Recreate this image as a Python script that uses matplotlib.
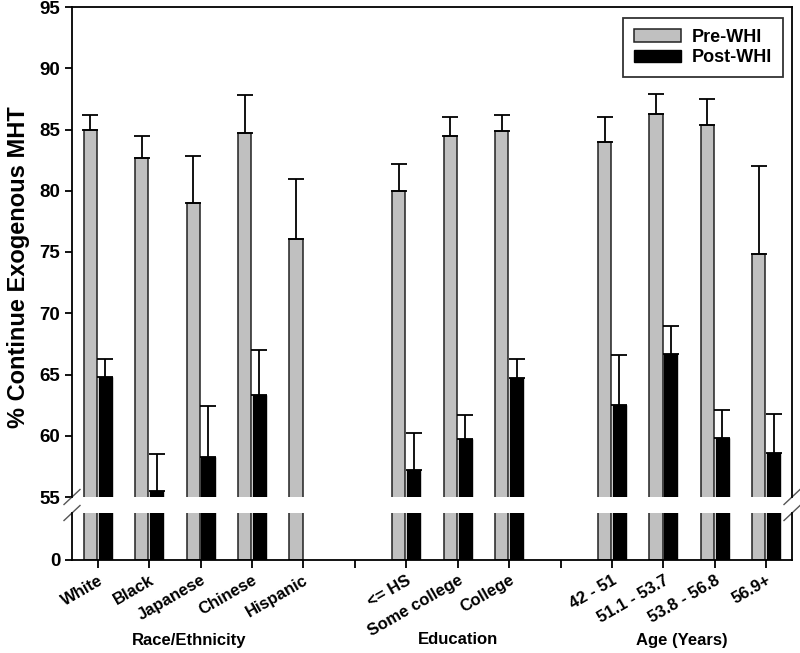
import numpy as np
import matplotlib
matplotlib.use('Agg')
import matplotlib.pyplot as plt
from matplotlib.transforms import blended_transform_factory

# ----------
# Data

categories = ['White', 'Black', 'Japanese', 'Chinese', 'Hispanic',
              '<= HS', 'Some college', 'College',
              '42 - 51', '51.1 - 53.7', '53.8 - 56.8', '56.9+']
groups = ['Race/Ethnicity', 'Education', 'Age (Years)']
group_sizes = [5, 3, 4]

pre_whi = [85.0, 82.7, 79.0, 84.7, 76.1, 80.0, 84.5, 84.9, 84.0, 86.3, 85.4, 74.8]
pre_err = [1.2, 1.8, 3.8, 3.1, 4.9, 2.2, 1.5, 1.3, 2.0, 1.6, 2.1, 7.2]
post_whi = [64.8, 55.5, 58.3, 63.3, np.nan, 57.2, 59.7, 64.7, 62.5, 66.7, 59.8, 58.6]
post_err = [1.5, 3.0, 4.1, 3.7, np.nan, 3.0, 2.0, 1.6, 4.1, 2.3, 2.3, 3.2]

# ----------

plt.rcParams['font.family'] = ['Liberation Sans', 'DejaVu Sans']
plt.rcParams['font.weight'] = 'bold'
plt.rcParams['axes.labelweight'] = 'bold'

# slot positions: one empty slot between groups
pos, slot, centers = [], 0, []
for n in group_sizes:
    centers.append(slot + (n - 1) / 2.0)
    pos += list(range(slot, slot + n))
    slot += n + 1
pos = np.array(pos, dtype=float)
nslots = slot - 1

pre_whi = np.array(pre_whi); pre_err = np.array(pre_err)
post_whi = np.array(post_whi); post_err = np.array(post_err)
ok = ~np.isnan(post_whi)

W, H = 800, 653
fig = plt.figure(figsize=(W / 100, H / 100), dpi=100)
ax_top = fig.add_axes([72 / W, 1 - 497 / H, 720 / W, 490 / H])
ax_low = fig.add_axes([72 / W, 1 - 560 / H, 720 / W, 47 / H])

bw, off = 0.255, 0.145
for ax in (ax_top, ax_low):
    ax.bar(pos - off, pre_whi, bw, color='#c0c0c0', edgecolor='#222222', lw=1.1,
           label='Pre-WHI', zorder=2)
    ax.bar(pos[ok] + off, post_whi[ok], bw, color='black', edgecolor='black', lw=1.0,
           label='Post-WHI', zorder=2)
    ax.set_xlim(-0.5, nslots - 0.5)
    for s in ax.spines.values():
        s.set_linewidth(1.3)
    ax.tick_params(axis='both', direction='out', width=1.3, length=5,
                   labelsize=13.5)

# upward-only error bars
eb = dict(fmt='none', ecolor='black', elinewidth=1.3, capsize=5.5, capthick=1.3, zorder=3)
ax_top.errorbar(pos - off, pre_whi, yerr=[np.zeros_like(pre_err), pre_err], **eb)
ax_top.errorbar(pos[ok] + off, post_whi[ok],
                yerr=[np.zeros(ok.sum()), post_err[ok]], **eb)

ax_top.set_ylim(55, 95)
ax_top.set_yticks(np.arange(55, 96, 5))
ax_top.set_xticks([])
ax_top.spines['bottom'].set_visible(False)

ax_low.set_ylim(0, 47 / 12.25)
ax_low.set_yticks([0])
ax_low.spines['top'].set_visible(False)
ax_low.set_xticks(np.arange(nslots))
labels = [''] * nslots
for p, c in zip(pos, categories):
    labels[int(p)] = c
ax_low.set_xticklabels(labels, rotation=30, ha='right', rotation_mode='anchor',
                       fontsize=12, fontweight='bold')
ax_low.tick_params(axis='x', length=6, pad=3)
for lab in ax_top.get_yticklabels() + ax_low.get_yticklabels():
    lab.set_fontweight('bold')

# break marks
dx, dy = 8 / 720, 7.5 / 490
kw = dict(color='#555555', lw=1.0, clip_on=False)
for x0 in (0, 1):
    ax_top.plot([x0 - dx, x0 + dx], [-dy, dy], transform=ax_top.transAxes, **kw)
dyl = 7.5 / 47
for x0 in (0, 1):
    ax_low.plot([x0 - dx, x0 + dx], [1 - dyl, 1 + dyl], transform=ax_low.transAxes, **kw)

ax_top.set_ylabel('% Continue Exogenous MHT', fontsize=17, fontweight='bold')
ax_top.yaxis.set_label_coords(-0.058, 0.469)

# group labels (nudged to where the reference puts them)
nudge = [-0.23, 0.0, -0.14]
tr = blended_transform_factory(ax_low.transData, fig.transFigure)
for g, c, d in zip(groups, centers, nudge):
    ax_low.text(c + d, 1 - 640 / H, g, transform=tr, ha='center', va='center',
                fontsize=12, fontweight='bold')

leg = ax_top.legend(loc='upper right', bbox_to_anchor=(783 / W, 1 - 18 / H),
                    bbox_transform=fig.transFigure, borderaxespad=0, fancybox=False,
                    edgecolor='black', handlelength=2.6, handleheight=0.65,
                    handletextpad=0.6, borderpad=0.6, labelspacing=0.2,
                    prop={'size': 13, 'weight': 'bold'})
leg.get_frame().set_linewidth(1.3)

plt.savefig('out.png', dpi=100)
